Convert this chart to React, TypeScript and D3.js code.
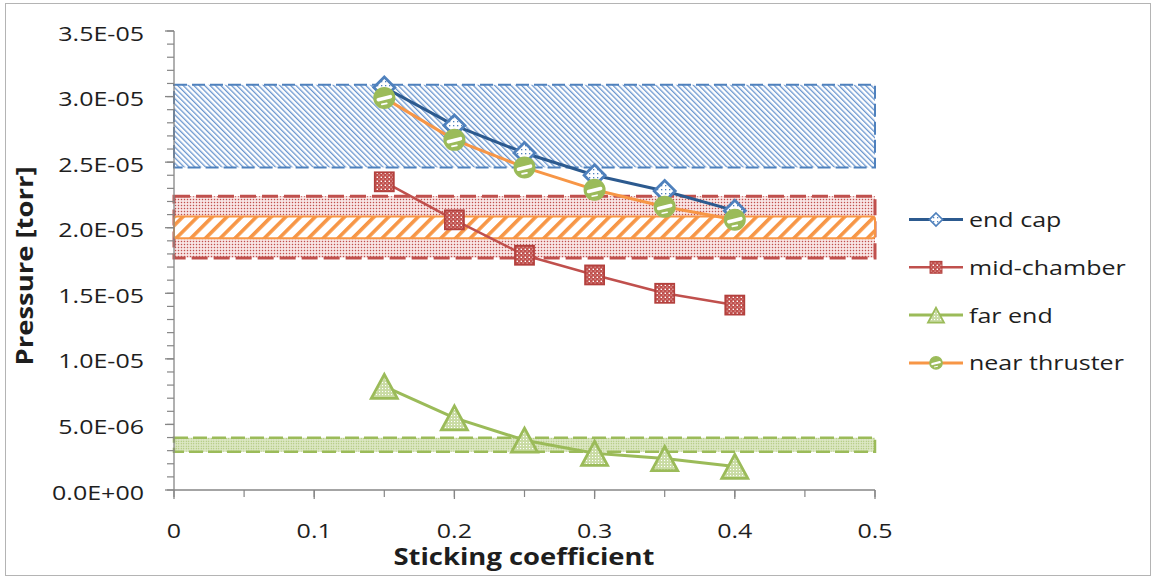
import React from 'react';
import * as d3 from 'd3';

// ---- data ----
const X_VALUES = [0.15, 0.2, 0.25, 0.3, 0.35, 0.4];
const END_CAP = [3.07e-5, 2.78e-5, 2.57e-5, 2.4e-5, 2.28e-5, 2.13e-5];
const MID_CHAMBER = [2.35e-5, 2.06e-5, 1.79e-5, 1.64e-5, 1.5e-5, 1.41e-5];
const FAR_END = [7.9e-6, 5.5e-6, 3.8e-6, 2.8e-6, 2.4e-6, 1.8e-6];
const NEAR_THRUSTER = [2.99e-5, 2.67e-5, 2.46e-5, 2.29e-5, 2.16e-5, 2.06e-5];
const SERIES_NAMES = ['end cap', 'mid-chamber', 'far end', 'near thruster'];

// measured ranges (bands), drawn in this order
const BAND_NAMES = ['end cap', 'mid-chamber', 'near thruster', 'far end'];
const BAND_LOW = [2.46e-5, 1.77e-5, 1.92e-5, 2.92e-6];
const BAND_HIGH = [3.09e-5, 2.24e-5, 2.085e-5, 3.99e-6];

const Y_TICKS = [0, 5e-6, 1e-5, 1.5e-5, 2e-5, 2.5e-5, 3e-5, 3.5e-5];
const X_TICKS = [0, 0.1, 0.2, 0.3, 0.4, 0.5];
const X_TICK_LABELS = ['0', '0.1', '0.2', '0.3', '0.4', '0.5'];

const FONT = "'Open Sans', 'Noto Sans', sans-serif";
const SX = 1.22;
const TXT = '#1e1e1e';

function fmtSci(v: number): string {
  if (v === 0) return '0.0E+00';
  const e = Math.floor(Math.log10(v) + 1e-9);
  const m = v / Math.pow(10, e);
  const sign = e < 0 ? '-' : '+';
  return `${m.toFixed(1)}E${sign}${String(Math.abs(e)).padStart(2, '0')}`;
}

const BLUE = '#4f81bd';
const BLUE_DARK = '#2c5a8f';
const RED = '#c0504d';
const GREEN = '#9bbb59';
const ORANGE = '#f79646';

function Marker({ kind, cx, cy, s }: { kind: string; cx: number; cy: number; s: number }) {
  if (kind === 'diamond') {
    const r = 10.5 * s;
    return (
      <path
        d={`M${cx},${cy - r}L${cx + r},${cy}L${cx},${cy + r}L${cx - r},${cy}Z`}
        fill="url(#mkBlueDots)"
        stroke={BLUE}
        strokeWidth={2.8 * s}
        strokeLinejoin="miter"
      />
    );
  }
  if (kind === 'square') {
    const h = 9.5 * s;
    return (
      <rect x={cx - h} y={cy - h} width={2 * h} height={2 * h} fill="url(#mkRedWeave)" stroke="#b3403d" strokeWidth={1.8 * s} />
    );
  }
  if (kind === 'triangle') {
    const hw = 13 * s;
    const hh = 12 * s;
    return (
      <path
        d={`M${cx},${cy - hh}L${cx + hw},${cy + hh}L${cx - hw},${cy + hh}Z`}
        fill="url(#mkGreenDots)"
        stroke={GREEN}
        strokeWidth={2.8 * s}
        strokeLinejoin="miter"
      />
    );
  }
  // circle
  const r = 10 * s;
  return (
    <g>
      <circle cx={cx} cy={cy} r={r} fill={GREEN} stroke={GREEN} strokeWidth={2 * s} />
      <line x1={cx - 6 * s} y1={cy + 1.8 * s} x2={cx + 6 * s} y2={cy - 1.2 * s} stroke="#fff" strokeWidth={3.6 * s} strokeLinecap="round" />
      <line x1={cx - 2.5 * s} y1={cy + 6.5 * s} x2={cx + 2.5 * s} y2={cy + 5.5 * s} stroke="#fff" strokeWidth={1.6 * s} strokeLinecap="round" />
    </g>
  );
}

function T({ x, y, children, anchor = 'start', size = 20.5, bold = false, rotate = 0 }: any) {
  return (
    <text
      transform={`translate(${x},${y}) rotate(${rotate}) scale(${SX},1)`}
      textAnchor={anchor}
      fontFamily={FONT}
      fontSize={size}
      fontWeight={bold ? 700 : 400}
      fill={TXT}
    >
      {children}
    </text>
  );
}

export default function App() {
  const x = d3.scaleLinear().domain([0, 0.5]).range([174, 875]);
  const y = d3.scaleLinear().domain([0, 3.5e-5]).range([490, 31]);

  const lineGen = d3
    .line<number>()
    .x((_, i) => x(X_VALUES[i]))
    .y((d) => y(d));

  const series = [
    { name: SERIES_NAMES[0], data: END_CAP, color: BLUE_DARK, width: 3, marker: 'diamond' },
    { name: SERIES_NAMES[1], data: MID_CHAMBER, color: RED, width: 2.5, marker: 'square' },
    { name: SERIES_NAMES[2], data: FAR_END, color: GREEN, width: 3, marker: 'triangle' },
    { name: SERIES_NAMES[3], data: NEAR_THRUSTER, color: ORANGE, width: 3, marker: 'circle' },
  ];

  const bandStyle: Record<string, any> = {
    'end cap': { fill: 'url(#bandBlue)', stroke: BLUE, dash: '13 5', rx: 0, sw: 2 },
    'mid-chamber': { fill: 'url(#bandRed)', stroke: RED, dash: '16 6', rx: 0, sw: 3 },
    'near thruster': { fill: 'url(#bandOrange)', stroke: ORANGE, dash: null, rx: 3, sw: 2 },
    'far end': { fill: 'url(#bandGreen)', stroke: GREEN, dash: '14 5', rx: 0, sw: 2.5 },
  };

  const minorY = d3.range(0, 36).map((i) => i * 1e-6);
  const minorX = d3.range(0, 11).map((i) => i * 0.05);

  return (
    <svg width={1156} height={580} style={{ position: 'absolute', left: 0, top: 0, background: '#fff' }}>
      <defs>
        <pattern id="bandBlue" patternUnits="userSpaceOnUse" width={3.8} height={3.8} patternTransform="rotate(-45)">
          <rect width={3.8} height={3.8} fill="#fff" />
          <rect width={1.3} height={3.8} fill="#6a96cf" />
        </pattern>
        <pattern id="bandRed" patternUnits="userSpaceOnUse" width={3} height={3}>
          <rect width={3} height={3} fill="#fbecec" />
          <rect x={0.8} y={0.8} width={1.4} height={1.4} fill={RED} />
        </pattern>
        <pattern id="bandGreen" patternUnits="userSpaceOnUse" width={2.5} height={2.5}>
          <rect width={2.5} height={2.5} fill="#dfe9c8" />
          <rect x={0.7} y={0.7} width={1.1} height={1.1} fill={GREEN} />
        </pattern>
        <pattern id="bandOrange" patternUnits="userSpaceOnUse" width={10.4} height={10.4} patternTransform="rotate(45)">
          <rect width={10.4} height={10.4} fill="#fff" />
          <rect width={3.6} height={10.4} fill={ORANGE} />
        </pattern>
        <pattern id="mkBlueDots" patternUnits="userSpaceOnUse" width={4} height={4}>
          <rect width={4} height={4} fill="#fff" />
          <rect x={1} y={1} width={1.3} height={1.3} fill={BLUE} />
        </pattern>
        <pattern id="mkRedWeave" patternUnits="userSpaceOnUse" width={4} height={4}>
          <rect width={4} height={4} fill={RED} />
          <rect x={0.6} y={0.6} width={1.4} height={1.4} fill="#fff" />
          <rect x={2.6} y={2.6} width={1.0} height={1.0} fill="#f3d3d2" />
        </pattern>
        <pattern id="mkGreenDots" patternUnits="userSpaceOnUse" width={3} height={3}>
          <rect width={3} height={3} fill="#c9dba3" />
          <rect x={1} y={1} width={1.1} height={1.1} fill="#fff" />
        </pattern>
      </defs>

      {/* frame */}
      <rect x={5.5} y={3.5} width={1145} height={572} fill="#fff" stroke="#b4b4b4" strokeWidth={1} />

      {/* bands */}
      {BAND_NAMES.map((n, i) => {
        const st = bandStyle[n];
        return (
          <rect
            key={n}
            x={x(0)}
            y={y(BAND_HIGH[i])}
            width={x(0.5) - x(0)}
            height={y(BAND_LOW[i]) - y(BAND_HIGH[i])}
            rx={st.rx}
            fill={st.fill}
            stroke={st.stroke}
            strokeWidth={st.sw}
            strokeDasharray={st.dash || undefined}
          />
        );
      })}

      {/* axes */}
      <line x1={x(0)} y1={y(0)} x2={x(0)} y2={y(3.5e-5)} stroke="#868686" strokeWidth={1.3} />
      <line x1={x(0)} y1={y(0)} x2={x(0.5)} y2={y(0)} stroke="#868686" strokeWidth={1.3} />
      {minorY.map((v) => (
        <line key={'my' + v} x1={x(0) - 7} x2={x(0)} y1={y(v)} y2={y(v)} stroke="#868686" strokeWidth={1.2} />
      ))}
      {Y_TICKS.map((v) => (
        <line key={'Y' + v} x1={x(0) - 9} x2={x(0)} y1={y(v)} y2={y(v)} stroke="#868686" strokeWidth={1.3} />
      ))}
      {minorX.map((v) => (
        <line key={'mx' + v} x1={x(v)} x2={x(v)} y1={y(0)} y2={y(0) + 7} stroke="#868686" strokeWidth={1.2} />
      ))}
      {X_TICKS.map((v) => (
        <line key={'X' + v} x1={x(v)} x2={x(v)} y1={y(0)} y2={y(0) + 9} stroke="#868686" strokeWidth={1.3} />
      ))}

      {Y_TICKS.map((v) => (
        <T key={'yl' + v} x={144} y={y(v) + 9.5} anchor="end">
          {fmtSci(v)}
        </T>
      ))}
      {X_TICKS.map((v, i) => (
        <T key={'xl' + v} x={x(v)} y={538} anchor="middle">
          {X_TICK_LABELS[i]}
        </T>
      ))}

      <T x={524} y={565} anchor="middle" size={22.5} bold>
        Sticking coefficient
      </T>
      <T x={33} y={266} anchor="middle" size={22.5} bold rotate={-90}>
        Pressure [torr]
      </T>

      {/* series */}
      {series.map((s) => (
        <g key={s.name}>
          <path d={lineGen(s.data) || ''} fill="none" stroke={s.color} strokeWidth={s.width} strokeLinejoin="round" />
          {s.data.map((v, i) => (
            <Marker key={i} kind={s.marker} cx={x(X_VALUES[i])} cy={y(v)} s={1} />
          ))}
        </g>
      ))}

      {/* legend */}
      {series.map((s, i) => {
        const ly = 219.5 + i * 47.8;
        return (
          <g key={'lg' + s.name}>
            <line x1={909} x2={963} y1={ly} y2={ly} stroke={s.color} strokeWidth={s.width} />
            <Marker kind={s.marker} cx={936} cy={ly} s={0.62} />
            <T x={969} y={ly + 7.5}>
              {s.name}
            </T>
          </g>
        );
      })}
    </svg>
  );
}
